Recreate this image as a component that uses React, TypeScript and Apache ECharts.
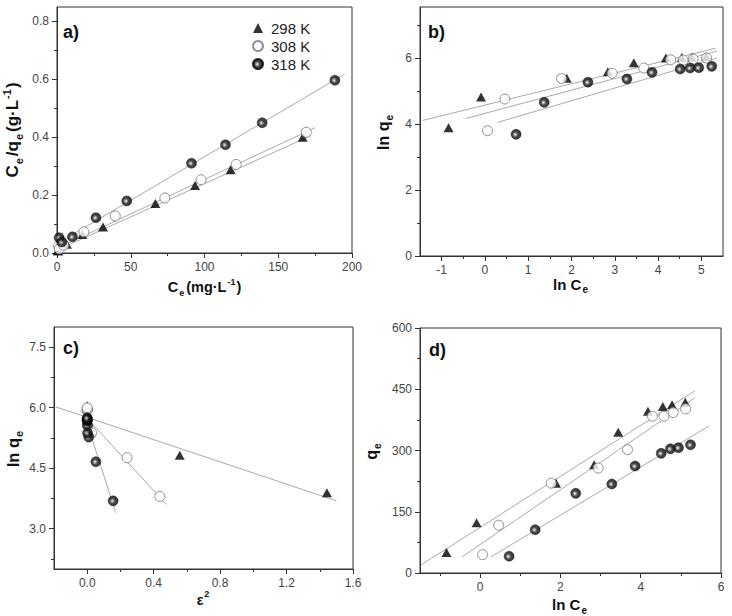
import React, { useEffect, useRef } from 'react';
import * as echarts from 'echarts';

const seriesNames = ['298 K', '308 K', '318 K'];

// ---------- Panel a: Ce vs Ce/qe ----------
const aCe298 = [0.43, 0.9, 6.7, 17.2, 31.2, 66.7, 93.6, 117.7, 166.6];
const aRatio298 = [0.009, 0.007, 0.03, 0.064, 0.09, 0.171, 0.233, 0.288, 0.4];
const aCe308 = [1.07, 1.6, 4.5, 18.2, 39.5, 73.1, 97.7, 121.5, 169.0];
const aRatio308 = [0.024, 0.014, 0.027, 0.073, 0.128, 0.19, 0.253, 0.306, 0.417];
const aCe318 = [1.5, 3.2, 10.5, 26.4, 47.3, 91.2, 114.2, 139.1, 188.4];
const aRatio318 = [0.053, 0.038, 0.056, 0.122, 0.18, 0.31, 0.374, 0.45, 0.597];

const aFit298X = [0, 172];
const aFit298Y = [0.01, 0.405];
const aFit308X = [0, 175];
const aFit308Y = [0.016, 0.433];
const aFit318X = [0, 195];
const aFit318Y = [0.032, 0.618];

// ---------- Panels b & d: ln Ce ----------
const lnCe298 = [-0.84, -0.09, 1.89, 2.84, 3.44, 4.18, 4.55, 4.78, 5.11];
const lnCe308 = [0.06, 0.46, 1.77, 2.94, 3.67, 4.29, 4.58, 4.81, 5.12];
const lnCe318 = [0.72, 1.37, 2.38, 3.28, 3.86, 4.51, 4.74, 4.94, 5.24];

// ln qe
const lnq298 = [3.89, 4.82, 5.39, 5.59, 5.86, 6.0, 6.02, 6.03, 6.05];
const lnq308 = [3.8, 4.76, 5.38, 5.54, 5.7, 5.95, 5.94, 5.97, 6.0];
const lnq318 = [3.69, 4.66, 5.27, 5.37, 5.57, 5.67, 5.7, 5.71, 5.75];

// qe
const q298 = [50, 123, 220, 265, 345, 396, 408, 412, 418];
const q308 = [45, 117, 220, 257, 302, 384, 384, 393, 402];
const q318 = [41, 106, 195, 218, 262, 293, 304, 307, 314];

const bFit298X = [-1.44, 5.33];
const bFit298Y = [4.11, 6.3];
const bFit308X = [-0.44, 5.36];
const bFit308Y = [4.17, 6.21];
const bFit318X = [0.29, 5.36];
const bFit318Y = [4.05, 6.0];

const dFit298X = [-1.47, 5.35];
const dFit298Y = [20, 446];
const dFit308X = [-0.46, 5.35];
const dFit308Y = [39, 429];
const dFit318X = [0.26, 5.7];
const dFit318Y = [39, 360];

// ---------- Panel c: epsilon^2 vs ln qe ----------
const eps298 = [1.443, 0.557, 0.02, 0.004, 0.001, 0, 0, 0, 0];
const eps308 = [0.437, 0.24, 0.026, 0.004, 0.001, 0, 0, 0, 0];
const eps318 = [0.156, 0.052, 0.009, 0.002, 0.001, 0, 0, 0, 0];

const cFit298X = [-0.19, 1.5];
const cFit298Y = [6.02, 3.69];
const cFit308X = [-0.044, 0.477];
const cFit308Y = [5.93, 3.6];
const cFit318X = [-0.024, 0.172];
const cFit318Y = [5.91, 3.395];

// ---------- Ticks ----------
const aXTicks = [0, 50, 100, 150, 200];
const aXMinor = [25, 75, 125, 175];
const aYTicks = [0, 0.2, 0.4, 0.6, 0.8];
const aYMinor = [0.1, 0.3, 0.5, 0.7];
const bXTicks = [-1, 0, 1, 2, 3, 4, 5];
const bXMinor = [-0.5, 0.5, 1.5, 2.5, 3.5, 4.5];
const bYTicks = [0, 2, 4, 6];
const bYMinor = [1, 3, 5, 7];
const cXTicks = [0, 0.4, 0.8, 1.2, 1.6];
const cXMinor = [0.2, 0.6, 1.0, 1.4];
const cYTicks = [3, 4.5, 6, 7.5];
const cYMinor = [2.25, 3.75, 5.25, 6.75];
const dXTicks = [0, 2, 4, 6];
const dXMinor = [-1, 1, 3, 5];
const dYTicks = [0, 150, 300, 450, 600];
const dYMinor = [75, 225, 375, 525];

const FONT = 'Arial, "Liberation Sans", sans-serif';
const zip = (xs: number[], ys: number[]) => xs.map((x, i) => [x, ys[i]]);

const sphere = {
  type: 'radial',
  x: 0.42,
  y: 0.52,
  r: 0.6,
  colorStops: [
    { offset: 0, color: '#ffffff' },
    { offset: 0.18, color: '#9a9a9a' },
    { offset: 0.45, color: '#1a1a1a' },
    { offset: 1, color: '#000' },
  ],
};

const markers: any[] = [
  { symbol: 'triangle', symbolSize: [10, 9], itemStyle: { color: '#000' } },
  { symbol: 'circle', symbolSize: 10, itemStyle: { color: '#fff', borderColor: '#777', borderWidth: 1 } },
  { symbol: 'circle', symbolSize: 10, itemStyle: { color: sphere, borderColor: '#000', borderWidth: 0.5 } },
];

function makeRich(size: number) {
  const small = Math.round(size * 0.64);
  return {
    b: { fontSize: size, fontWeight: 'bold', fontFamily: FONT, color: '#111', lineHeight: size + 6 },
    s: { fontSize: small, fontWeight: 'bold', fontFamily: FONT, color: '#111', lineHeight: small, verticalAlign: 'bottom', padding: [0, 2, 0, 1] },
    p: { fontSize: small, fontWeight: 'bold', fontFamily: FONT, color: '#111', lineHeight: small, verticalAlign: 'top', padding: [0, 1, 0, 1] },
  };
}

function mainAxis(grid: number, min: number, max: number, ticks: number[], digits: number, name: string, gap: number, isY: boolean, nameSize: number) {
  return {
    type: 'value',
    gridIndex: grid,
    position: isY ? 'left' : 'bottom',
    min,
    max,
    axisLine: { show: true, onZero: false, lineStyle: { color: '#333', width: 1 } },
    axisTick: { show: true, length: 5, customValues: ticks, lineStyle: { color: '#333', width: 1 } },
    axisLabel: {
      customValues: ticks,
      formatter: (v: number) => v.toFixed(digits),
      color: '#444',
      fontSize: 12,
      fontFamily: FONT,
      margin: 8,
    },
    splitLine: { show: false },
    name,
    nameLocation: 'middle',
    nameGap: gap,
    nameRotate: isY ? 90 : 0,
    nameTextStyle: { rich: makeRich(nameSize) },
  };
}

function minorAxis(grid: number, min: number, max: number, ticks: number[], isY: boolean) {
  return {
    type: 'value',
    gridIndex: grid,
    position: isY ? 'left' : 'bottom',
    min,
    max,
    axisLine: { show: false, onZero: false },
    axisTick: { show: true, length: 3, customValues: ticks, lineStyle: { color: '#333', width: 1 } },
    axisLabel: { show: false },
    splitLine: { show: false },
  };
}

function scatter(k: number, grid: number, xs: number[], ys: number[]) {
  return {
    type: 'scatter',
    name: seriesNames[k],
    xAxisIndex: grid * 2,
    yAxisIndex: grid * 2,
    data: zip(xs, ys),
    z: 3,
    ...markers[k],
  };
}

function fit(grid: number, xs: number[], ys: number[], k: number) {
  return {
    type: 'line',
    name: 'fit' + grid + '-' + k,
    xAxisIndex: grid * 2,
    yAxisIndex: grid * 2,
    data: zip(xs, ys),
    showSymbol: false,
    symbol: 'none',
    silent: true,
    z: 1,
    lineStyle: { color: '#aaa', width: 1 },
  };
}

function panelLabel(text: string, x: number, y: number) {
  return {
    type: 'text',
    x,
    y,
    style: { text, fontSize: 18, fontWeight: 'bold', fontFamily: FONT, fill: '#111', verticalAlign: 'middle' },
  };
}

export default function App() {
  const ref = useRef<HTMLDivElement>(null);
  useEffect(() => {
    if (!ref.current) return;
    const chart = echarts.init(ref.current, undefined, { renderer: 'svg' });
    const gridStyle = { show: true, borderColor: '#333', borderWidth: 1, backgroundColor: 'transparent' };
    const option: any = {
      animation: false,
      backgroundColor: '#fff',
      textStyle: { fontFamily: FONT },
      grid: [
        { left: 53, top: 7, width: 299, height: 246, ...gridStyle },
        { left: 420, top: 7, width: 303, height: 249, ...gridStyle },
        { left: 54, top: 327, width: 299, height: 242, ...gridStyle },
        { left: 420, top: 328, width: 301, height: 245, ...gridStyle },
      ],
      xAxis: [
        mainAxis(0, 0, 200, aXTicks, 0, '{b|C}{s|e}{b|(mg·L}{p|-1}{b|)}', 24, false, 14.5),
        minorAxis(0, 0, 200, aXMinor, false),
        mainAxis(1, -1.5, 5.5, bXTicks, 0, '{b|ln C}{s|e}', 15, false, 15),
        minorAxis(1, -1.5, 5.5, bXMinor, false),
        mainAxis(2, -0.2, 1.6, cXTicks, 1, '{b|ε}{p|2}', 8, false, 14),
        minorAxis(2, -0.2, 1.6, cXMinor, false),
        mainAxis(3, -1.5, 6, dXTicks, 0, '{b|ln C}{s|e}', 21, false, 15),
        minorAxis(3, -1.5, 6, dXMinor, false),
      ],
      yAxis: [
        mainAxis(0, 0, 0.85, aYTicks, 1, '{b|C}{s|e}{b|/q}{s|e}{b|(g·L}{p|-1}{b|)}', 33, true, 17),
        minorAxis(0, 0, 0.85, aYMinor, true),
        mainAxis(1, 0, 7.55, bYTicks, 0, '{b|ln q}{s|e}', 26, true, 16),
        minorAxis(1, 0, 7.55, bYMinor, true),
        mainAxis(2, 2, 8, cYTicks, 1, '{b|ln q}{s|e}', 30, true, 16.5),
        minorAxis(2, 2, 8, cYMinor, true),
        mainAxis(3, 0, 600, dYTicks, 0, '{b|q}{s|e}', 38, true, 16),
        minorAxis(3, 0, 600, dYMinor, true),
      ],
      legend: {
        data: seriesNames,
        orient: 'vertical',
        left: 247,
        top: 15,
        itemWidth: 10,
        itemHeight: 10,
        itemGap: 2,
        selectedMode: false,
        textStyle: { fontSize: 15, lineHeight: 16, color: '#222', fontFamily: FONT, padding: [0, 0, 0, 3] },
      },
      graphic: [
        panelLabel('a)', 63, 32),
        panelLabel('b)', 428, 32),
        panelLabel('c)', 63, 348),
        panelLabel('d)', 429, 350),
      ],
      series: [
        fit(0, aFit298X, aFit298Y, 0),
        fit(0, aFit308X, aFit308Y, 1),
        fit(0, aFit318X, aFit318Y, 2),
        fit(1, bFit298X, bFit298Y, 0),
        fit(1, bFit308X, bFit308Y, 1),
        fit(1, bFit318X, bFit318Y, 2),
        fit(2, cFit298X, cFit298Y, 0),
        fit(2, cFit308X, cFit308Y, 1),
        fit(2, cFit318X, cFit318Y, 2),
        fit(3, dFit298X, dFit298Y, 0),
        fit(3, dFit308X, dFit308Y, 1),
        fit(3, dFit318X, dFit318Y, 2),
        scatter(0, 0, aCe298, aRatio298),
        scatter(1, 0, aCe308, aRatio308),
        scatter(2, 0, aCe318, aRatio318),
        scatter(0, 1, lnCe298, lnq298),
        scatter(1, 1, lnCe308, lnq308),
        scatter(2, 1, lnCe318, lnq318),
        scatter(0, 2, eps298, lnq298),
        scatter(1, 2, eps308, lnq308),
        scatter(2, 2, eps318, lnq318),
        scatter(0, 3, lnCe298, q298),
        scatter(1, 3, lnCe308, q308),
        scatter(2, 3, lnCe318, q318),
      ],
    };
    chart.setOption(option);
    return () => chart.dispose();
  }, []);
  return (
    <div
      ref={ref}
      style={{ position: 'fixed', left: 0, top: 0, width: 732, height: 616, background: '#fff' }}
    />
  );
}
